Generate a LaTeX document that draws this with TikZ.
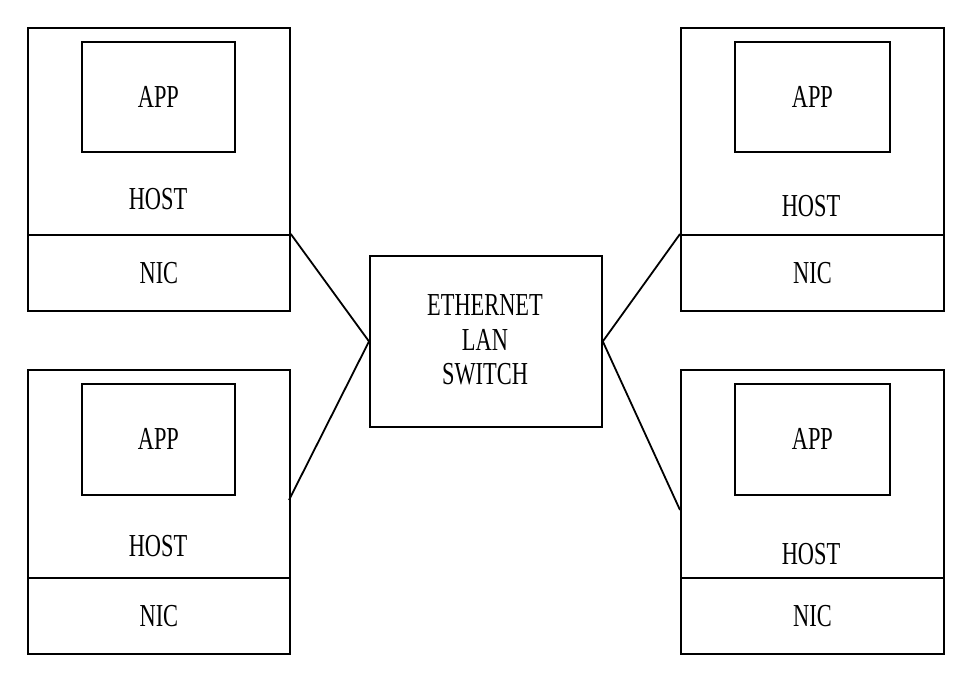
\documentclass[tikz,border=0pt]{standalone}
\usepackage{fontspec}
\newfontfamily\diagfont[FakeStretch=0.70]{Liberation Serif}
\begin{document}
\begin{tikzpicture}[x=1pt,y=-1pt,
  box/.style={draw=black,line width=1.8pt,inner sep=0pt,anchor=north west},
  lbl/.style={font=\diagfont\fontsize{32}{34.5}\selectfont,inner sep=0pt,align=center},
  wire/.style={draw=black,line width=1.8pt}]
\useasboundingbox (0,0) rectangle (961,675);
% top-left host
\node[box,minimum width=262pt,minimum height=207pt] (hostA) at (27,27) {};
\node[box,minimum width=262pt,minimum height=76pt] (nicA) at (27,234) {};
\node[box,minimum width=153pt,minimum height=110pt] (appA) at (81,41) {};
\node[lbl] at (appA.center) {APP};
\node[lbl] (htA) at (158,199) {HOST};
\node[lbl] at (nicA.center) {NIC};
% bottom-left host
\node[box,minimum width=262pt,minimum height=208pt] (hostB) at (27,369) {};
\node[box,minimum width=262pt,minimum height=76pt] (nicB) at (27,577) {};
\node[box,minimum width=153pt,minimum height=111pt] (appB) at (81,383) {};
\node[lbl] at (appB.center) {APP};
\node[lbl] (htB) at (158,546) {HOST};
\node[lbl] at (nicB.center) {NIC};
% top-right host
\node[box,minimum width=263pt,minimum height=207pt] (hostC) at (680,27) {};
\node[box,minimum width=263pt,minimum height=76pt] (nicC) at (680,234) {};
\node[box,minimum width=155pt,minimum height=110pt] (appC) at (734,41) {};
\node[lbl] at (appC.center) {APP};
\node[lbl] (htC) at (811,206) {HOST};
\node[lbl] at (nicC.center) {NIC};
% bottom-right host
\node[box,minimum width=263pt,minimum height=208pt] (hostD) at (680,369) {};
\node[box,minimum width=263pt,minimum height=76pt] (nicD) at (680,577) {};
\node[box,minimum width=155pt,minimum height=111pt] (appD) at (734,383) {};
\node[lbl] at (appD.center) {APP};
\node[lbl] (htD) at (811,554) {HOST};
\node[lbl] at (nicD.center) {NIC};
% switch
\node[box,minimum width=232pt,minimum height=171pt] (sw) at (369,255) {};
\node[lbl] (swt) at (485,340) {ETHERNET\\LAN\\SWITCH};
% connectors
\coordinate (pB) at (289,500);
\coordinate (pD) at (680,510);
\draw[wire] (nicA.north east) -- (sw.west);
\draw[wire] (pB) -- (sw.west);
\draw[wire] (nicC.north west) -- (sw.east);
\draw[wire] (pD) -- (sw.east);
\end{tikzpicture}
\end{document}
